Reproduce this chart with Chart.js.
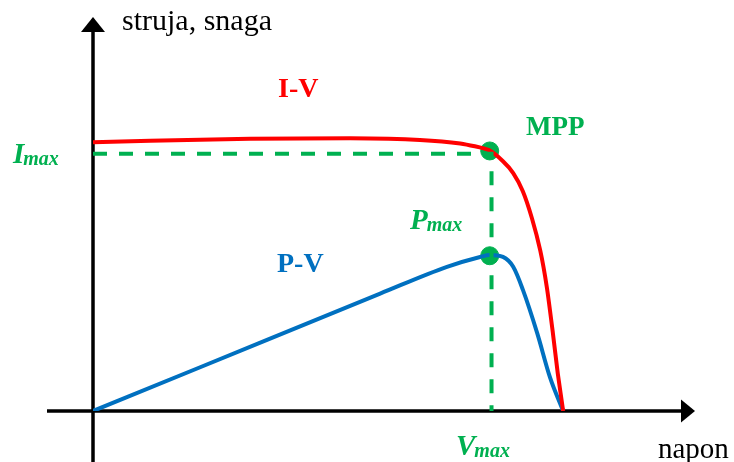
<!DOCTYPE html>
<html>
<head>
<meta charset="utf-8">
<script src="https://cdn.jsdelivr.net/npm/chart.js@4"></script>
<style>
  body { margin: 0; background: #fff; }
  #wrap { width: 734px; height: 462px; }
</style>
</head>
<body>
<div id="wrap"><canvas id="pvChart" width="734" height="462"></canvas></div>
<script>
// I-V curve (napon, struja) in arbitrary units
const ivVoltage = [0, 9.5, 26.1, 42.7, 54.3, 61.0, 65.8, 68.1, 69.8, 71.4, 72.9, 74.3, 75.4, 76.4, 77.2, 78.1];
const ivCurrent = [68.2, 68.6, 69.1, 69.2, 68.8, 67.9, 66.2, 63.4, 60.4, 55.8, 49.0, 40.7, 31.3, 19.7, 9.6, 0];

// P-V curve (napon, snaga)
const pvVoltage = [0, 17.8, 47.7, 58.8, 64.3, 65.9, 68.1, 69.8, 71.4, 73.8, 75.9, 78.1];
const pvPower = [0, 11.1, 29.8, 36.6, 39.1, 39.6, 39.1, 36.6, 30.8, 19.7, 8.6, 0];

// maximum power point
const vMax = 66.2;
const iMax = 65.3;
const mppCurrent = 66.0;
const pMax = 39.4;

const axisLabels = ['napon', 'struja, snaga'];
const curveLabels = ['I-V', 'P-V', 'MPP'];

const RED = '#ff0000';
const BLUE = '#0070c0';
const GREEN = '#00b050';

const toPoints = (xs, ys) => xs.map((x, i) => ({ x: x, y: ys[i] }));

// axes with arrows + text labels
const decorations = {
  id: 'decorations',
  beforeDatasetsDraw(chart) {
    const c = chart.ctx;
    const xs = chart.scales.x, ys = chart.scales.y;
    const x0 = xs.getPixelForValue(0), y0 = ys.getPixelForValue(0);
    const xEnd = xs.getPixelForValue(100), yEnd = ys.getPixelForValue(100);
    c.save();
    c.strokeStyle = '#000';
    c.fillStyle = '#000';
    c.lineWidth = 3.5;
    // x axis
    c.beginPath();
    c.moveTo(47, y0);
    c.lineTo(xEnd - 12, y0);
    c.stroke();
    c.beginPath();
    c.moveTo(xEnd, y0);
    c.lineTo(xEnd - 14, y0 - 11.5);
    c.lineTo(xEnd - 14, y0 + 11.5);
    c.closePath();
    c.fill();
    // y axis
    c.beginPath();
    c.moveTo(x0, 462);
    c.lineTo(x0, yEnd + 12);
    c.stroke();
    c.beginPath();
    c.moveTo(x0, yEnd);
    c.lineTo(x0 - 12, yEnd + 15);
    c.lineTo(x0 + 12, yEnd + 15);
    c.closePath();
    c.fill();
    c.restore();
  },
  afterDatasetsDraw(chart) {
    const c = chart.ctx;
    const ys = chart.scales.y;
    c.save();
    c.textBaseline = 'alphabetic';
    c.textAlign = 'left';
    c.fillStyle = '#000';
    c.font = '30px "Liberation Serif"';
    c.fillText(axisLabels[1], 122, 30);
    c.font = '29px "Liberation Serif"';
    c.fillText(axisLabels[0], 658, 458);

    c.font = 'bold 28px "Liberation Serif"';
    c.fillStyle = RED;
    c.fillText(curveLabels[0], 278, 97);
    c.fillStyle = BLUE;
    c.fillText(curveLabels[1], 277, 272);
    c.fillStyle = GREEN;
    c.font = 'bold 27px "Liberation Serif"';
    c.fillText(curveLabels[2], 526, 135);

    // subscripted labels
    function sub(main, small, x, y) {
      c.font = 'italic bold 29px "Liberation Serif"';
      c.fillText(main, x, y);
      const w = c.measureText(main).width;
      c.font = 'italic bold 20px "Liberation Serif"';
      c.fillText(small, x + w - 1, y + 2);
    }
    c.fillStyle = GREEN;
    sub('I', 'max', 13, ys.getPixelForValue(iMax) + 9);
    sub('P', 'max', 410, 229);
    sub('V', 'max', 456, 455);
    c.restore();
  }
};

new Chart(document.getElementById('pvChart'), {
  type: 'scatter',
  data: {
    datasets: [
      {
        data: toPoints([0, vMax, vMax], [iMax, iMax, 0]),
        showLine: true,
        borderColor: GREEN,
        borderWidth: 4,
        borderDash: [14, 12],
        pointRadius: 0,
      },
      {
        data: toPoints(ivVoltage, ivCurrent),
        showLine: true,
        borderColor: RED,
        borderWidth: 4,
        tension: 0.2,
        pointRadius: 0,
      },
      {
        data: toPoints(pvVoltage, pvPower),
        showLine: true,
        borderColor: BLUE,
        borderWidth: 4,
        cubicInterpolationMode: 'monotone',
        pointRadius: 0,
      },
      {
        data: toPoints([vMax - 0.3, vMax - 0.3], [mppCurrent, pMax]),
        showLine: false,
        pointRadius: 9,
        pointBackgroundColor: GREEN,
        pointBorderColor: GREEN,
        pointBorderWidth: 1,
      },
    ],
  },
  options: {
    responsive: false,
    animation: false,
    layout: { padding: { left: 93, right: 39, top: 17, bottom: 51 } },
    scales: {
      x: { type: 'linear', min: 0, max: 100, display: false },
      y: { type: 'linear', min: 0, max: 100, display: false },
    },
    plugins: {
      legend: { display: false },
      tooltip: { enabled: false },
    },
  },
  plugins: [decorations],
});
</script>
</body>
</html>
